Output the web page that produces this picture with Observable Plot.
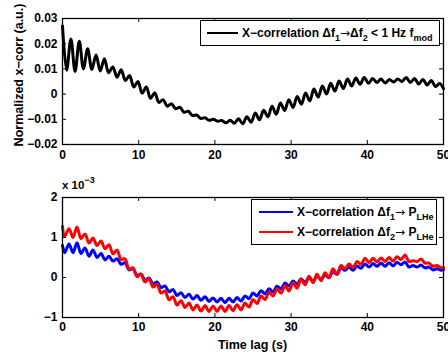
<!DOCTYPE html>
<html><head><meta charset="utf-8">
<script src="https://cdn.jsdelivr.net/npm/d3@7"></script>
<script src="https://cdn.jsdelivr.net/npm/@observablehq/plot@0.6"></script>
<style>
html,body{margin:0;padding:0;background:#fff;}
#chart{width:448px;height:352px;}
#chart svg{display:block;}
</style></head><body><div id="chart"></div>
<script>
// ---- data ----
const xTicks = [0, 10, 20, 30, 40, 50];
const topYTicks = [-0.02, -0.01, 0, 0.01, 0.02, 0.03];
const botYTicks = [-1, 0, 1, 2];
const yLabelTop = "Normalized x\u2212corr (a.u.)";
const xLabel = "Time lag (s)";
const scaleNote = "x 10";
const scaleExp = "\u22123";

const tTop = [0,0.55,1.1,1.65,2.2,2.75,3.3,3.85,4.4,4.95,5.5,6.05,6.6,7.15,7.7,8.25,8.8,9.35,9.9,10.45,11,11.55,12.1,12.65,13.2,13.75,14.3,14.85,15.4,15.95,16.5,17.05,17.6,18.15,18.7,19.25,19.8,20.35,20.9,21.45,22,22.55,23.1,23.65,24.2,24.75,25.3,25.85,26.4,26.95,27.5,28.05,28.6,29.15,29.7,30.25,30.8,31.35,31.9,32.45,33,33.55,34.1,34.65,35.2,35.75,36.3,36.85,37.4,37.95,38.5,39.05,39.6,40.15,40.7,41.25,41.8,42.35,42.9,43.45,44,44.55,45.1,45.65,46.2,46.75,47.3,47.85,48.4,48.95,49.5,50];
const xcorrF1F2 = [
 0.027,0.0095,0.0219,0.0090,0.0210,0.0100,0.0180,0.0098,0.0155,0.0092,
 0.0140,0.0085,0.0108,0.0067,0.0097,0.0054,0.0074,0.0028,0.0050,0.0004,
 0.0028,-0.0017,0.0005,-0.0033,-0.0022,-0.0048,-0.0038,-0.0058,-0.0052,-0.0072,
 -0.0068,-0.0085,-0.0083,-0.0097,-0.0094,-0.0104,-0.0100,-0.0108,-0.0105,-0.0114,
 -0.0104,-0.0116,-0.0098,-0.0118,-0.0090,-0.0112,-0.0075,-0.0102,-0.0064,-0.0090,
 -0.0048,-0.0080,-0.0035,-0.0065,-0.0022,-0.0053,-0.0010,-0.0040,0.0004,-0.0027,
 0.0020,-0.0012,0.0032,0.0000,0.0043,0.0012,0.0052,0.0022,0.0060,0.0032,
 0.0064,0.0039,0.0066,0.0043,0.0062,0.0046,0.0060,0.0044,0.0058,0.0048,
 0.0060,0.0050,0.0066,0.0046,0.0062,0.0040,0.0058,0.0036,0.0054,0.0030,
 0.0042,0.0022];

const tBot = [0,0.3,0.85,1.38,1.9,2.43,2.95,3.48,4,4.53,5.05,5.58,6.1,6.63,7.15,7.68,8.2,8.73,9.25,9.78,10.3,10.83,11.35,11.88,12.4,12.93,13.45,13.98,14.5,15.03,15.55,16.08,16.6,17.13,17.65,18.18,18.7,19.23,19.75,20.28,20.8,21.33,21.85,22.38,22.9,23.43,23.95,24.48,25,25.53,26.05,26.58,27.1,27.63,28.15,28.68,29.2,29.73,30.25,30.78,31.3,31.83,32.35,32.88,33.4,33.93,34.45,34.98,35.5,36.03,36.55,37.08,37.6,38.13,38.65,39.18,39.7,40.23,40.75,41.28,41.8,42.33,42.85,43.38,43.9,44.43,44.95,45.48,46,46.53,47.05,47.58,48.1,48.63,49.15,49.68,50];
// values in units of 1e-3
const xcorrF1P = [
 0.80,0.62,0.84,0.62,0.87,0.60,0.74,0.53,0.69,0.50,
 0.60,0.44,0.53,0.41,0.47,0.33,0.37,0.19,0.22,0.05,
 0.09,-0.07,-0.01,-0.16,-0.11,-0.25,-0.21,-0.36,-0.30,-0.45,
 -0.38,-0.50,-0.42,-0.54,-0.45,-0.57,-0.48,-0.60,-0.51,-0.61,
 -0.52,-0.63,-0.52,-0.61,-0.50,-0.59,-0.46,-0.53,-0.39,-0.46,
 -0.33,-0.41,-0.28,-0.36,-0.22,-0.28,-0.14,-0.21,-0.09,-0.16,
 -0.04,-0.12,0.00,-0.09,0.03,-0.05,0.06,0.00,0.14,0.08,
 0.24,0.18,0.26,0.18,0.29,0.23,0.34,0.26,0.35,0.28,
 0.36,0.28,0.37,0.29,0.38,0.32,0.39,0.26,0.30,0.26,
 0.31,0.24,0.26,0.19,0.22,0.18,0.19];
const xcorrF2P = [
 1.28,1.03,1.22,1.00,1.26,0.97,1.09,0.86,0.99,0.80,
 0.91,0.72,0.82,0.59,0.69,0.45,0.47,0.21,0.24,0.02,
 0.08,-0.11,-0.03,-0.24,-0.17,-0.39,-0.34,-0.56,-0.48,-0.69,
 -0.58,-0.75,-0.64,-0.81,-0.69,-0.84,-0.70,-0.85,-0.71,-0.85,
 -0.71,-0.85,-0.70,-0.83,-0.68,-0.81,-0.64,-0.74,-0.55,-0.65,
 -0.46,-0.55,-0.37,-0.46,-0.29,-0.39,-0.20,-0.34,-0.13,-0.27,
 -0.04,-0.18,0.03,-0.13,0.08,-0.08,0.12,-0.01,0.22,0.08,
 0.30,0.22,0.34,0.25,0.40,0.33,0.48,0.37,0.48,0.39,
 0.49,0.40,0.50,0.41,0.52,0.45,0.56,0.40,0.42,0.40,
 0.46,0.36,0.36,0.28,0.30,0.24,0.25];

// ---- build ----
const FONT = "'Liberation Sans', Arial, Helvetica, sans-serif";
const W = 448, ML = 62, MR = 5;
const innerW = W - ML - MR;
const TICK = 4;

const topData = tTop.map((t, i) => ({t, v: xcorrF1F2[i]}));
const blueData = tBot.map((t, i) => ({t, v: xcorrF1P[i]}));
const redData = tBot.map((t, i) => ({t, v: xcorrF2P[i]}));

function inwardTicks(yt, innerH) {
  return [
    Plot.tickY(yt, {y: d => d, insetRight: innerW - TICK, stroke: "black"}),
    Plot.tickY(yt, {y: d => d, insetLeft: innerW - TICK, stroke: "black"}),
    Plot.tickX(xTicks, {x: d => d, insetTop: innerH - TICK, stroke: "black"}),
    Plot.tickX(xTicks, {x: d => d, insetBottom: innerH - TICK, stroke: "black"})
  ];
}

const topH = 170, topMT = 18, topMB = 26;
const svgTop = Plot.plot({
  width: W, height: topH, marginLeft: ML, marginRight: MR, marginTop: topMT, marginBottom: topMB,
  style: {fontFamily: FONT, fontSize: "12px", fontWeight: "bold", color: "black", background: "white"},
  x: {domain: [0, 50]},
  y: {domain: [-0.02, 0.03]},
  marks: [
    Plot.line(topData, {x: "t", y: "v", stroke: "black", strokeWidth: 3, curve: "catmull-rom"}),
    ...inwardTicks(topYTicks, topH - topMT - topMB),
    Plot.frame({stroke: "black", strokeWidth: 1.3}),
    Plot.axisX(xTicks, {tickSize: 0, tickPadding: 6, label: null, fill: "black"}),
    Plot.axisY(topYTicks, {tickSize: 0, tickPadding: 5, label: null, fill: "black", tickFormat: d3.format(".2~f")})
  ]
});

const botH = 182, botMT = 27, botMB = 35;
const svgBot = Plot.plot({
  width: W, height: botH, marginLeft: ML, marginRight: MR, marginTop: botMT, marginBottom: botMB,
  style: {fontFamily: FONT, fontSize: "12px", fontWeight: "bold", color: "black", background: "white"},
  x: {domain: [0, 50]},
  y: {domain: [-1, 2]},
  marks: [
    Plot.line(blueData, {x: "t", y: "v", stroke: "#0000ff", strokeWidth: 3, curve: "catmull-rom"}),
    Plot.line(redData, {x: "t", y: "v", stroke: "#ff0000", strokeWidth: 3, curve: "catmull-rom"}),
    ...inwardTicks(botYTicks, botH - botMT - botMB),
    Plot.frame({stroke: "black", strokeWidth: 1.3}),
    Plot.axisX(xTicks, {tickSize: 0, tickPadding: 5, label: null, fill: "black"}),
    Plot.axisY(botYTicks, {tickSize: 0, tickPadding: 5, label: null, fill: "black", tickFormat: d3.format("d")})
  ]
});

// legend text helper with subscripts
function richText(sel, x, y, parts) {
  const t = sel.append("text").attr("x", x).attr("y", y)
    .attr("text-anchor", "start")
    .attr("font-size", 12).attr("font-weight", "bold").attr("fill", "black")
    .attr("font-family", FONT);
  let shifted = 0;
  parts.forEach(p => {
    const sub = p[1] === "sub";
    const arrow = p[1] === "arrow";
    const dy = sub ? 3.5 - shifted : -shifted;
    const ts = t.append("tspan").text(p[0]);
    if (dy) ts.attr("dy", dy);
    if (sub) ts.attr("font-size", 9);
    if (arrow) ts.attr("font-family", "'DejaVu Sans', sans-serif").attr("font-weight", "normal").attr("font-size", 12);
    shifted = sub ? 3.5 : 0;
  });
  return t;
}

// top legend
const gT = d3.select(svgTop).append("g");
gT.append("rect").attr("x", 200.5).attr("y", 20.5).attr("width", 239).attr("height", 25)
  .attr("fill", "white").attr("stroke", "black").attr("stroke-width", 1);
gT.append("line").attr("x1", 207).attr("x2", 238).attr("y1", 33).attr("y2", 33)
  .attr("stroke", "black").attr("stroke-width", 2);
richText(gT, 242, 37, [["X\u2212correlation \u0394f"], ["1", "sub"], ["\u2192", "arrow"], ["\u0394f"], ["2", "sub"], [" < 1 Hz f"], ["mod", "sub"]]);

// y label
d3.select(svgTop).append("text").attr("transform", "translate(23,75) rotate(-90)")
  .attr("text-anchor", "middle").attr("font-size", 12.5).attr("font-weight", "bold")
  .attr("font-family", FONT).attr("fill", "black").text(yLabelTop);

// bottom legend
const gB = d3.select(svgBot).append("g");
gB.append("rect").attr("x", 251.5).attr("y", 29.5).attr("width", 185).attr("height", 45)
  .attr("fill", "white").attr("stroke", "black").attr("stroke-width", 1);
gB.append("line").attr("x1", 259).attr("x2", 293).attr("y1", 42).attr("y2", 42)
  .attr("stroke", "#0000ff").attr("stroke-width", 2);
gB.append("line").attr("x1", 259).attr("x2", 293).attr("y1", 62).attr("y2", 62)
  .attr("stroke", "#ff0000").attr("stroke-width", 2);
richText(gB, 297, 46, [["X\u2212correlation \u0394f"], ["1", "sub"], ["\u2192", "arrow"], [" P"], ["LHe", "sub"]]);
richText(gB, 297, 66, [["X\u2212correlation \u0394f"], ["2", "sub"], ["\u2192", "arrow"], [" P"], ["LHe", "sub"]]);

// exponent note
const en = d3.select(svgBot).append("text").attr("x", 62).attr("y", 18.5)
  .attr("text-anchor", "start")
  .attr("font-size", 11.5).attr("font-weight", "bold").attr("font-family", FONT).attr("fill", "black");
en.append("tspan").text(scaleNote);
en.append("tspan").attr("dy", -6).attr("font-size", 9).text(scaleExp);

// x label
d3.select(svgBot).append("text").attr("x", 252.5).attr("y", 179).attr("text-anchor", "middle")
  .attr("font-size", 12.5).attr("font-weight", "bold").attr("font-family", FONT).attr("fill", "black").text(xLabel);

const chart = document.getElementById("chart");
chart.appendChild(svgTop);
chart.appendChild(svgBot);
</script></body></html>
